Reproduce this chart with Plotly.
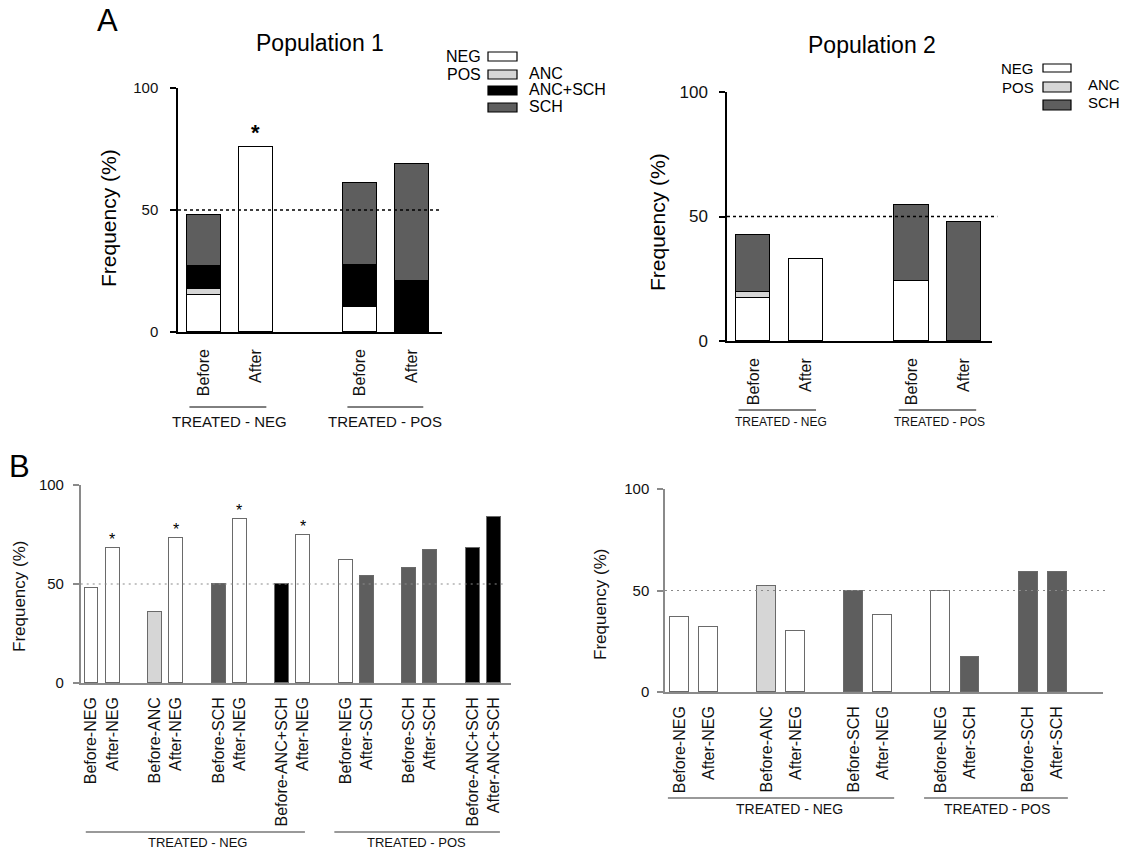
import plotly.graph_objects as go

FONT = "Arial, 'Liberation Sans', sans-serif"
W, H = 1124, 853

# ---------------- data ----------------
# Panel A : stacked composition (%) of each bar
a_ticks = ["Before", "After", "Before", "After"]
a_pos = [0, 1, 3, 4]
a_groups = ["TREATED - NEG", "TREATED - POS"]

# Population 1
p1_neg = [15.3, 76.0, 10.1, 0]
p1_anc = [2.4, 0, 0, 0]
p1_ancsch = [9.3, 0, 17.3, 21.0]
p1_sch = [20.8, 0, 33.7, 47.9]
p1_sig = [False, True, False, False]

# Population 2
p2_neg = [17.4, 33.0, 24.2, 0]
p2_anc = [2.1, 0, 0, 0]
p2_sch = [23.2, 0, 30.6, 47.8]

# Panel B : frequency (%) per before/after status
b1_ticks = ["Before-NEG", "After-NEG", "Before-ANC", "After-NEG", "Before-SCH", "After-NEG",
            "Before-ANC+SCH", "After-NEG", "Before-NEG", "After-SCH", "Before-SCH", "After-SCH",
            "Before-ANC+SCH", "After-ANC+SCH"]
b1_pos = [0, 1, 3, 4, 6, 7, 9, 10, 12, 13, 15, 16, 18, 19]
b1_vals = [48, 68, 36, 73, 50, 83, 50, 75, 62, 54, 58, 67, 68, 84]
b1_sig = [False, True, False, True, False, True, False, True, False, False, False, False, False, False]

b2_ticks = ["Before-NEG", "After-NEG", "Before-ANC", "After-NEG", "Before-SCH", "After-NEG",
            "Before-NEG", "After-SCH", "Before-SCH", "After-SCH"]
b2_pos = [0, 1, 3, 4, 6, 7, 9, 10, 12, 13]
b2_vals = [37, 32, 52, 30, 50, 38, 50, 17, 59, 59]

COL = {"NEG": "#ffffff", "ANC": "#d6d6d6", "ANC+SCH": "#000000", "SCH": "#5e5e5e"}


def px(x):
    return x / W


def py(y):
    return 1 - y / H


def nz(arr):
    return [v if v else None for v in arr]


fig = go.Figure()

# ---- Panel A bars ----
for name, arr in [("NEG", p1_neg), ("ANC", p1_anc), ("ANC+SCH", p1_ancsch), ("SCH", p1_sch)]:
    fig.add_trace(go.Bar(x=a_pos, y=nz(arr), name=name, width=0.65, xaxis="x", yaxis="y",
                         marker=dict(color=COL[name], line=dict(color="#000", width=1.5)),
                         showlegend=False))
for name, arr in [("NEG", p2_neg), ("ANC", p2_anc), ("SCH", p2_sch)]:
    fig.add_trace(go.Bar(x=a_pos, y=nz(arr), name=name, width=0.65, xaxis="x2", yaxis="y2",
                         marker=dict(color=COL[name], line=dict(color="#000", width=1.5)),
                         showlegend=False))

# ---- Panel B bars ----
for ticks, pos, vals, xa, ya in [(b1_ticks, b1_pos, b1_vals, "x3", "y3"),
                                 (b2_ticks, b2_pos, b2_vals, "x4", "y4")]:
    kinds = [t.split("-", 1)[1] for t in ticks]
    for k in ["NEG", "ANC", "SCH", "ANC+SCH"]:
        xs = [p for p, kk in zip(pos, kinds) if kk == k]
        ys = [v for v, kk in zip(vals, kinds) if kk == k]
        if xs:
            fig.add_trace(go.Bar(x=xs, y=ys, name=k, width=0.65, xaxis=xa, yaxis=ya,
                                 marker=dict(color=COL[k], line=dict(color="#6a6a6a", width=1)),
                                 showlegend=False))


def xax(domain, rng, ticks, pos, color, lw, size, standoff):
    return dict(domain=domain, range=rng, tickmode="array", tickvals=pos, ticktext=ticks,
                tickangle=-90, ticks="", showline=True, linecolor=color, linewidth=lw,
                showgrid=False, zeroline=False, automargin=False, ticklabelstandoff=standoff,
                tickfont=dict(size=size, color="#111", family=FONT), fixedrange=True)


def yax(domain, anchor, color, lw, size, standoff):
    return dict(domain=domain, range=[0, 100], tickvals=[0, 50, 100], ticks="outside", ticklen=6,
                tickwidth=lw, tickcolor=color, showline=True, linecolor=color, linewidth=lw,
                showgrid=False, zeroline=False, automargin=False, anchor=anchor,
                ticklabelstandoff=standoff,
                tickfont=dict(size=size, color="#111", family=FONT), fixedrange=True)


layout = dict(
    width=W, height=H, autosize=False, margin=dict(l=0, r=0, t=0, b=0),
    paper_bgcolor="white", plot_bgcolor="rgba(0,0,0,0)", barmode="stack", bargap=0,
    font=dict(family=FONT, color="#111"),
    xaxis=xax([px(178), px(442)], [-0.5, 4.58], a_ticks, a_pos, "#000", 1.5, 16, 9) | dict(anchor="y"),
    yaxis=yax([py(332), py(88)], "x", "#000", 1.5, 15, 9),
    xaxis2=xax([px(727), px(992)], [-0.5, 4.53], a_ticks, a_pos, "#000", 1.5, 16, 9) | dict(anchor="y2"),
    yaxis2=yax([py(341), py(92)], "x2", "#000", 1.5, 17, 8),
    xaxis3=xax([px(80.7), px(510.5)], [-0.5, 19.8], b1_ticks, b1_pos, "#8a8a8a", 1.5, 16, 6) | dict(anchor="y3"),
    yaxis3=yax([py(683), py(485)], "x3", "#8a8a8a", 1.5, 15, 6),
    xaxis4=xax([px(665), px(1103)], [-0.5, 14.58], b2_ticks, b2_pos, "#8a8a8a", 1.5, 16, 6) | dict(anchor="y4"),
    yaxis4=yax([py(692), py(489)], "x4", "#8a8a8a", 1.5, 15, 5),
)
fig.update_layout(**layout)

shapes = []
ann = []


def note(text, x, y, size, color="#000", xanchor="center", xref="paper", yref="paper", **kw):
    d = dict(text=text, xref=xref, yref=yref, x=x, y=y, showarrow=False, xanchor=xanchor,
             yanchor=kw.pop("yanchor", "middle"), font=dict(size=size, color=color, family=FONT))
    d.update(kw)
    ann.append(d)


# reference lines at 50 %
shapes.append(dict(type="line", xref="x domain", yref="y", x0=0, x1=1, y0=50, y1=50,
                   line=dict(color="#000", width=1.5, dash="3px,3px")))
shapes.append(dict(type="line", xref="x2 domain", yref="y2", x0=0, x1=1.02, y0=50, y1=50,
                   line=dict(color="#000", width=1.5, dash="3px,3px")))
shapes.append(dict(type="line", xref="x3 domain", yref="y3", x0=0, x1=0.99, y0=50, y1=50,
                   line=dict(color="#8a8a8a", width=1.2, dash="2px,4px")))
shapes.append(dict(type="line", xref="x4 domain", yref="y4", x0=0, x1=1.01, y0=50, y1=50,
                   line=dict(color="#8a8a8a", width=1.2, dash="2px,4px")))

# group brackets under the x tick labels
groups = [
    ("x", a_groups[0], -0.28, 1.2, 0.5, 407, 422, 15, "#000", 1),
    ("x", a_groups[1], 2.76, 4.22, 3.49, 407, 422, 15, "#000", 1),
    ("x2", a_groups[0], -0.28, 1.19, 0.52, 410, 422, 12, "#000", 1),
    ("x2", a_groups[1], 2.76, 4.23, 3.54, 410, 422, 12, "#000", 1),
    ("x3", a_groups[0], -0.26, 10.09, 5.0, 832, 842, 13, "#777", 1.5),
    ("x3", a_groups[1], 11.48, 19.3, 15.35, 832, 842, 13, "#777", 1.5),
    ("x4", a_groups[0], -0.4, 7.39, 3.77, 798, 809, 14, "#777", 1.5),
    ("x4", a_groups[1], 8.42, 13.37, 10.93, 798, 809, 14, "#777", 1.5),
]
for xr, txt, x0, x1, xc, yl, yt, fs, c, lw in groups:
    shapes.append(dict(type="line", xref=xr, yref="paper", x0=x0, x1=x1, y0=py(yl), y1=py(yl),
                       line=dict(color=c, width=lw)))
    note(txt, xc, py(yt), fs, "#111", xref=xr)

# significance asterisks
for p, v1, v2, v3, v4, s in zip(a_pos, p1_neg, p1_anc, p1_ancsch, p1_sch, p1_sig):
    if s:
        note("<b>*</b>", p, v1 + v2 + v3 + v4, 22, xref="x", yref="y", yanchor="bottom")
for p, v, s in zip(b1_pos, b1_vals, b1_sig):
    if s:
        note("*", p, v, 16, xref="x3", yref="y3", yanchor="bottom", yshift=-2)

# titles, panel letters, y-axis titles
note("A", px(107), py(20), 31)
note("B", px(19), py(467), 31)
note("Population 1", px(320), py(43), 23)
note("Population 2", px(872), py(45), 23)
note("Frequency (%)", px(108), py(218), 21, textangle=-90)
note("Frequency (%)", px(657), py(222), 21, textangle=-90)
note("Frequency (%)", px(19), py(597), 17, "#111", textangle=-90)
note("Frequency (%)", px(600), py(604), 17, "#111", textangle=-90)

# hand-built legends (NEG / POS subtypes)
leg1 = [("NEG", "NEG", "", 52, 61), ("ANC", "POS", "ANC", 70, 79), ("ANC+SCH", "", "ANC+SCH", 86, 95),
        ("SCH", "", "SCH", 103, 112)]
for k, left, right, y0, y1 in leg1:
    shapes.append(dict(type="rect", xref="paper", yref="paper", x0=px(488), x1=px(517),
                       y0=py(y1), y1=py(y0), fillcolor=COL[k], line=dict(color="#000", width=1.2)))
    yc = (y0 + y1) / 2
    if left:
        note(left, px(483), py(yc), 16, xanchor="right")
    if right:
        note(right, px(527), py(yc - 1), 16, xanchor="left")

leg2 = [("NEG", "NEG", "", 64, 72), ("ANC", "POS", "ANC", 82, 92), ("SCH", "", "SCH", 100, 110)]
for k, left, right, y0, y1 in leg2:
    shapes.append(dict(type="rect", xref="paper", yref="paper", x0=px(1043), x1=px(1071),
                       y0=py(y1), y1=py(y0), fillcolor=COL[k], line=dict(color="#000", width=1.2)))
    yc = (y0 + y1) / 2
    if left:
        note(left, px(1036), py(yc + 1), 15, xanchor="right")
    if right:
        note(right, px(1086), py(yc - 2), 15, xanchor="left")

fig.update_layout(shapes=shapes, annotations=ann)
fig.write_html("out.html", config={"displayModeBar": False},
               post_script="document.body.style.margin='0';")
